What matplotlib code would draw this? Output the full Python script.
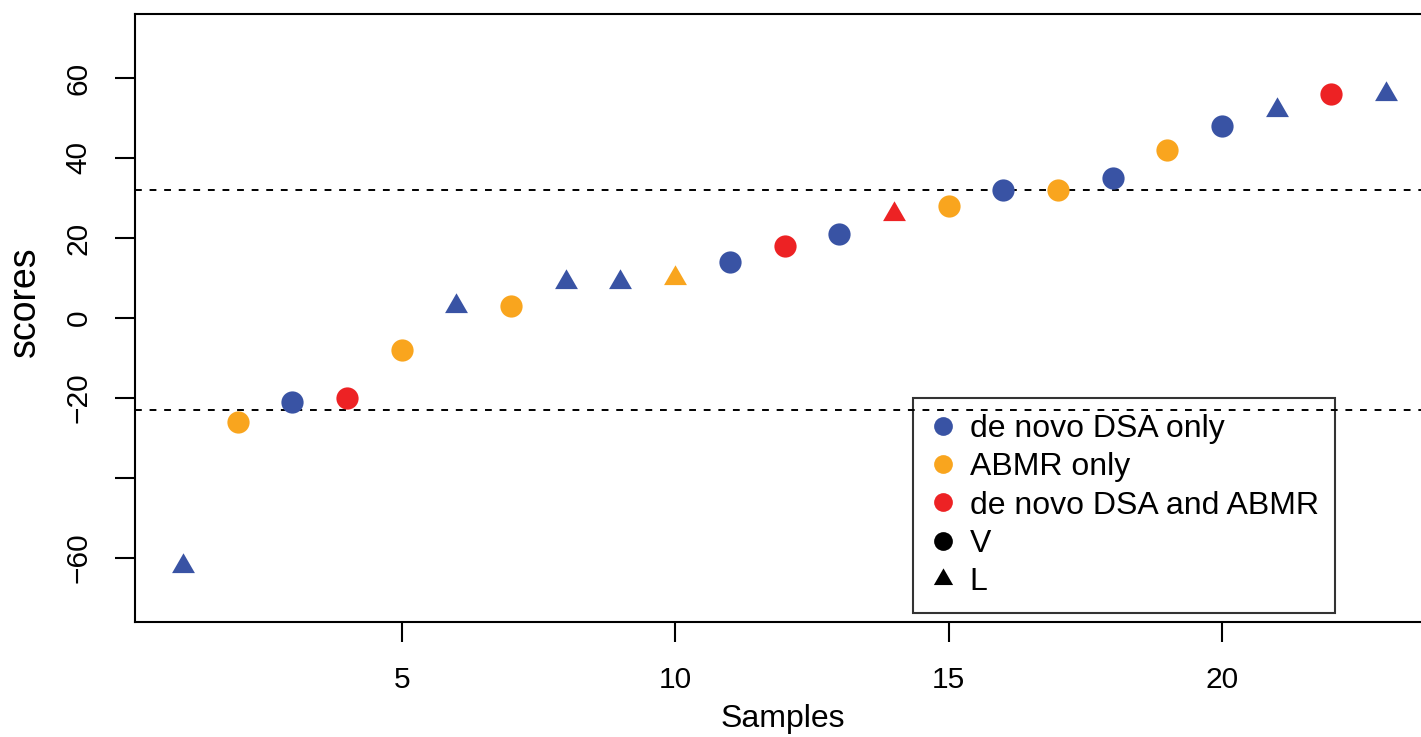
import matplotlib
matplotlib.use("Agg")
import matplotlib.pyplot as plt
from matplotlib.path import Path
from matplotlib.lines import Line2D

plt.rcParams['font.family'] = ['Liberation Sans', 'DejaVu Sans']

# Scores per sample (sorted), with group and sample type
samples = list(range(1, 24))
scores = [-62, -26, -21, -20, -8, 3, 3, 9, 9, 10, 14, 18, 21, 26, 28, 32, 32, 35, 42, 48, 52, 56, 56]
groups = ["dsa", "abmr", "dsa", "both", "abmr", "dsa", "abmr", "dsa", "dsa", "abmr",
          "dsa", "both", "dsa", "both", "abmr", "dsa", "abmr", "dsa", "abmr", "dsa",
          "dsa", "both", "dsa"]
types = ["L", "V", "V", "V", "V", "L", "V", "L", "L", "L",
         "V", "V", "V", "L", "V", "V", "V", "V", "V", "V",
         "L", "V", "L"]

thresholds = [32, -23]

group_colors = {"dsa": "#3953A4", "abmr": "#F9A51E", "both": "#ED2224"}
group_labels = [("dsa", "de novo DSA only"), ("abmr", "ABMR only"),
                ("both", "de novo DSA and ABMR")]

y_ticks = [-60, -40, -20, 0, 20, 40, 60]
y_tick_labels = ["\u221260", "", "\u221220", "0", "20", "40", "60"]
x_ticks = [5, 10, 15, 20]

# Filled triangle shaped like R's pch 17
tri = Path([(0, 1.555), (1.347, -0.778), (-1.347, -0.778), (0, 1.555)],
           [Path.MOVETO, Path.LINETO, Path.LINETO, Path.CLOSEPOLY])
shape_markers = {"V": "o", "L": tri}
shape_sizes = {"V": 16, "L": 19}

W, H = 1421, 737
fig = plt.figure(figsize=(W / 100, H / 100), dpi=100)
ax = fig.add_axes([135 / W, 1 - 622 / H, (1434 - 135) / W, (622 - 14) / H])

for x, y, g, t in zip(samples, scores, groups, types):
    ax.plot([x], [y], linestyle="none", marker=shape_markers[t],
            markersize=shape_sizes[t], color=group_colors[g],
            markeredgewidth=0, zorder=3)

for th in thresholds:
    ax.axhline(th, color="black", linewidth=1.4, linestyle=(0, (3.5, 4)), zorder=2)

ax.set_xlim(0.12, 23.88)
ax.set_ylim(-76, 76)
ax.set_xticks(x_ticks)
ax.set_xticklabels([str(v) for v in x_ticks])
ax.set_yticks(y_ticks)
ax.set_yticklabels(y_tick_labels, rotation=90, va="center")

for s in ax.spines.values():
    s.set_linewidth(1.5)
ax.tick_params(axis="both", length=14.5, width=1.5, labelsize=21.5)
ax.tick_params(axis="x", pad=17)
ax.tick_params(axis="y", pad=16)

ax.set_xlabel("Samples", fontsize=23, va="baseline")
ax.xaxis.set_label_coords(0.4988, (622 - 727) / 608)
ax.set_ylabel("scores", fontsize=27, va="baseline")
ax.yaxis.set_label_coords((35 - 135) / 1299, (622 - 302) / 608)

handles = [Line2D([], [], linestyle="none", marker="o", markersize=13.5,
                  color=group_colors[k], markeredgewidth=0) for k, _ in group_labels]
handles += [Line2D([], [], linestyle="none", marker="o", markersize=13.5,
                   color="black", markeredgewidth=0),
            Line2D([], [], linestyle="none", marker=tri, markersize=16,
                   color="black", markeredgewidth=0)]
labels = [lab for _, lab in group_labels] + ["V", "L"]

leg = fig.legend(handles, labels, loc="upper left",
                 bbox_to_anchor=(913 / W, 1 - 398 / H), fontsize=23,
                 frameon=True, fancybox=False, edgecolor="black",
                 facecolor="none", framealpha=None,
                 borderpad=0.5, labelspacing=0.26, handletextpad=0.4,
                 handlelength=0.88, borderaxespad=0)
leg.get_frame().set_linewidth(1.5)

fig.savefig("out.png", dpi=100, facecolor="white")
